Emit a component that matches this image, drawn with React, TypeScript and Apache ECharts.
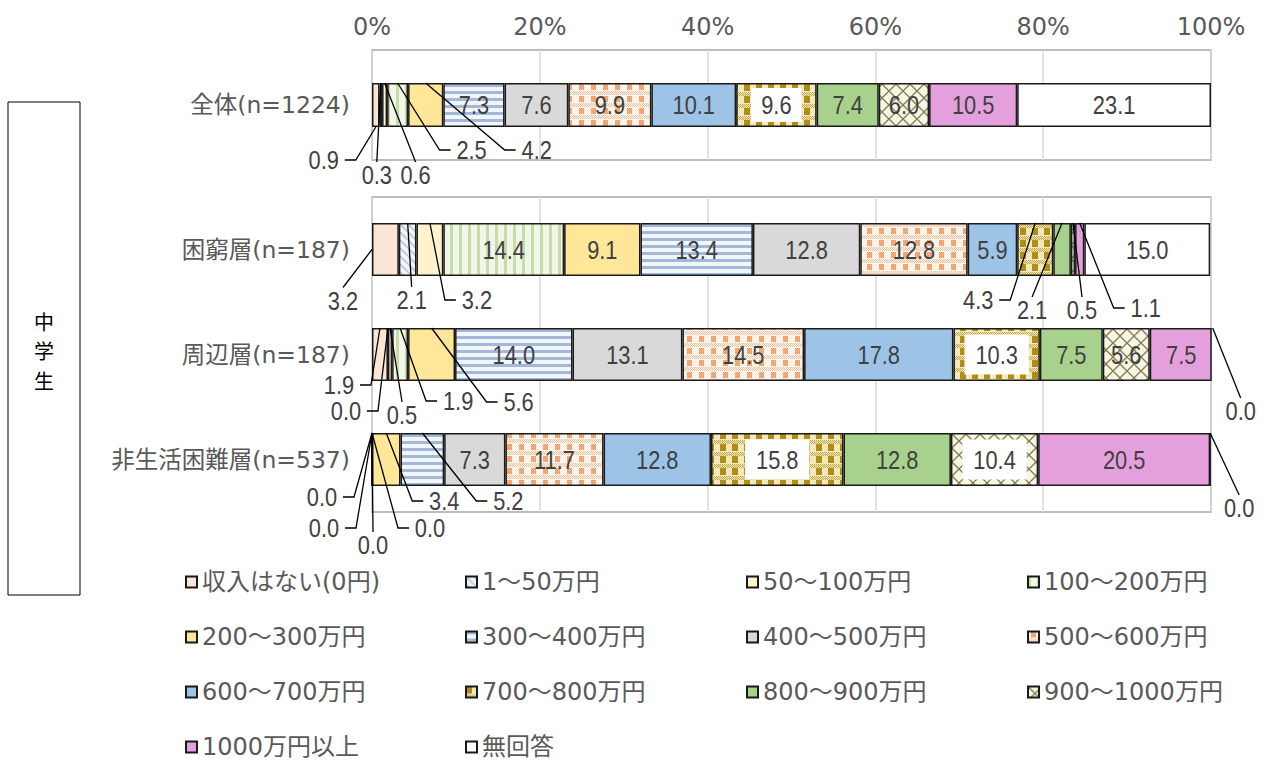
import React, { useEffect, useRef } from 'react';
import * as echarts from 'echarts';

// ---- data ----
const topCategories = ['全体(n=1224)'];
const bottomCategories = ['困窮層(n=187)', '周辺層(n=187)', '非生活困難層(n=537)'];
const incomeBands = [
  '収入はない(0円)', '1～50万円', '50～100万円', '100～200万円',
  '200～300万円', '300～400万円', '400～500万円', '500～600万円',
  '600～700万円', '700～800万円', '800～900万円', '900～1000万円',
  '1000万円以上', '無回答',
];
const valuesAll = [0.9, 0.3, 0.6, 2.5, 4.2, 7.3, 7.6, 9.9, 10.1, 9.6, 7.4, 6.0, 10.5, 23.1];
const valuesPoor = [3.2, 2.1, 3.2, 14.4, 9.1, 13.4, 12.8, 12.8, 5.9, 4.3, 2.1, 0.5, 1.1, 15.0];
const valuesBorder = [1.9, 0.0, 0.5, 1.9, 5.6, 14.0, 13.1, 14.5, 17.8, 10.3, 7.5, 5.6, 7.5, 0.0];
const valuesNonPoor = [0.0, 0.0, 0.0, 0.0, 3.4, 5.2, 7.3, 11.7, 12.8, 15.8, 12.8, 10.4, 20.5, 0.0];
const sideTitle = ['中', '学', '生'];

// ---- layout (not data) ----
const rowsByKey: Record<string, number[]> = {
  all: valuesAll, poor: valuesPoor, border: valuesBorder, nonpoor: valuesNonPoor,
};
const gridRows = [['all'], ['poor', 'border', 'nonpoor']];
const gridCats = [topCategories, bottomCategories];
const barWidths = [44, 53];
// [row, band index, label side, line target, dx, dy]
const leaderLayout: [string, number, string, string, number, number][] = [
  ['all', 0, 'right', 'bottom', -52, 33],
  ['all', 1, 'top', 'top', -4, 92],
  ['all', 2, 'top', 'top', 31, 92],
  ['all', 3, 'left', 'top', 74, 67],
  ['all', 4, 'left', 'top', 111, 67],
  ['poor', 0, 'top', 'left', -29, 51],
  ['poor', 1, 'top', 'top', 4, 77],
  ['poor', 2, 'left', 'top', 47, 77],
  ['poor', 9, 'right', 'top', -57, 77],
  ['poor', 10, 'top', 'top', -30, 87],
  ['poor', 11, 'top', 'top', 9, 87],
  ['poor', 12, 'left', 'top', 66, 85],
  ['border', 0, 'right', 'top', -41, 57],
  ['border', 1, 'right', 'top', -42, 83],
  ['border', 2, 'top', 'top', 12, 87],
  ['border', 3, 'left', 'top', 58, 73],
  ['border', 4, 'left', 'top', 87, 74],
  ['border', 13, 'top', 'top', 28, 83],
  ['nonpoor', 0, 'right', 'top', -50, 64],
  ['nonpoor', 1, 'right', 'top', -48, 95],
  ['nonpoor', 2, 'top', 'top', 1, 112],
  ['nonpoor', 3, 'left', 'top', 58, 95],
  ['nonpoor', 4, 'left', 'top', 58, 68],
  ['nonpoor', 5, 'left', 'top', 86, 68],
  ['nonpoor', 13, 'top', 'top', 29, 75],
];
const legendColumns = [[0, 4, 8, 12], [1, 5, 9, 13], [2, 6, 10], [3, 7, 11]];
const legendLeft = [185, 465, 746, 1027];

const LABEL_FONT = "'Liberation Sans', Arial, sans-serif";
const LABEL_SCALE = 0.84;
const UI_FONT = "'DejaVu Sans', 'Noto Sans CJK JP', sans-serif";

function tile(w: number, h: number, draw: (ctx: CanvasRenderingContext2D) => void) {
  const c = document.createElement('canvas');
  c.width = w;
  c.height = h;
  const ctx = c.getContext('2d') as CanvasRenderingContext2D;
  draw(ctx);
  return { image: c, repeat: 'repeat', imageWidth: w, imageHeight: h } as any;
}

function dots(ctx: CanvasRenderingContext2D, y0: number, y1: number, w: number) {
  for (let y = y0; y < y1; y++) for (let x = y % 2; x < w; x += 2) ctx.fillRect(x, y, 1, 1);
}

function makeFills() {
  return [
    '#fbe5d6',
    tile(8, 8, (ctx) => {
      ctx.fillStyle = '#f3f5f9'; ctx.fillRect(0, 0, 8, 8);
      ctx.strokeStyle = '#c3cbdb'; ctx.lineWidth = 2;
      for (let k = -1; k <= 1; k++) { ctx.beginPath(); ctx.moveTo(k * 8, 0); ctx.lineTo(k * 8 + 8, 8); ctx.stroke(); }
    }),
    '#fff2cc',
    tile(9, 9, (ctx) => {
      ctx.fillStyle = '#f0f6e8'; ctx.fillRect(0, 0, 9, 9);
      ctx.fillStyle = '#c8dcaa'; ctx.fillRect(0, 0, 3, 9);
    }),
    '#ffe699',
    tile(7, 7, (ctx) => {
      ctx.fillStyle = '#f2f5fa'; ctx.fillRect(0, 0, 7, 7);
      ctx.fillStyle = '#a3b9da'; ctx.fillRect(0, 0, 7, 3);
    }),
    '#d9d9d9',
    tile(12, 12, (ctx) => {
      ctx.fillStyle = '#fcf3ea'; ctx.fillRect(0, 0, 12, 12);
      ctx.fillStyle = '#f2a674'; ctx.fillRect(3, 0, 5, 6);
      ctx.fillStyle = '#ecc4a2'; dots(ctx, 7, 11, 12);
    }),
    '#9dc3e6',
    tile(12, 12, (ctx) => {
      ctx.fillStyle = '#f1e8c0'; ctx.fillRect(0, 0, 12, 12);
      ctx.fillStyle = '#b08e12'; ctx.fillRect(0, 0, 6, 7);
      ctx.fillStyle = '#c2a744'; dots(ctx, 8, 12, 12);
    }),
    '#a9d18e',
    tile(14, 14, (ctx) => {
      ctx.fillStyle = '#f7f5e6'; ctx.fillRect(0, 0, 14, 14);
      ctx.strokeStyle = '#847d4c'; ctx.lineWidth = 1.3;
      ctx.beginPath(); ctx.moveTo(0, 0); ctx.lineTo(14, 14); ctx.stroke();
      ctx.beginPath(); ctx.moveTo(14, 0); ctx.lineTo(0, 14); ctx.stroke();
    }),
    '#e4a0dc',
    '#ffffff',
  ];
}

function leaderIndex(row: string, s: number) {
  return leaderLayout.findIndex((l) => l[0] === row && l[1] === s);
}

export default function App() {
  const ref = useRef<HTMLDivElement>(null);
  useEffect(() => {
    const chart = echarts.init(ref.current as HTMLDivElement, null, { renderer: 'svg' });
    const fills = makeFills();
    const series: any[] = [];

    for (let g = 0; g < 2; g++) {
      const rows = gridRows[g];
      for (let s = 0; s < incomeBands.length; s++) {
        series.push({
          type: 'bar',
          name: incomeBands[s],
          xAxisIndex: g,
          yAxisIndex: g,
          stack: 'g' + g,
          barWidth: barWidths[g],
          emphasis: { disabled: true },
          itemStyle: { color: fills[s], borderColor: '#1a1a1a', borderWidth: 1.5 },
          label: { show: false },
          data: rows.map((rk) => rowsByKey[rk][s]),
        });
      }
      // value labels (inside and with leader lines), positioned from the stacked data
      const cdata: any[] = [];
      rows.forEach((rk, r) => {
        const vals = rowsByKey[rk];
        let cum = 0;
        vals.forEach((v, s) => {
          const li = leaderIndex(rk, s);
          const x = li >= 0 && leaderLayout[li][3] === 'left' ? 0 : cum + v / 2;
          cdata.push([x, r, v, li, s]);
          cum += v;
        });
      });
      const bw = barWidths[g];
      const boxPad = g === 0 ? [4, 12] : [7, 13];
      series.push({
        type: 'custom',
        xAxisIndex: g,
        yAxisIndex: g,
        silent: true,
        z: 5,
        encode: { x: 0, y: 1 },
        data: cdata,
        renderItem: (params: any, api: any) => {
          const li = api.value(3) as number;
          const s = api.value(4) as number;
          const v = Number(api.value(2));
          const p = api.coord([api.value(0), api.value(1)]);
          const boxed = li < 0 && (s === 9 || (s === 11 && v >= 8));
          const text = (x: number, y: number) => ({
            type: 'text', x, y, scaleX: LABEL_SCALE,
            style: {
              text: v.toFixed(1), fill: '#404040', fontSize: 26, fontFamily: LABEL_FONT,
              align: 'center', verticalAlign: 'middle',
              ...(boxed ? { backgroundColor: '#ffffff', padding: boxPad } : {}),
            },
          });
          if (li < 0) return { type: 'group', children: [text(p[0], p[1])] };
          const cfg = leaderLayout[li];
          const side = cfg[2], target = cfg[3], dx = cfg[4], dy = cfg[5];
          let tx = p[0], ty = p[1];
          if (target === 'top') ty -= bw / 2;
          else if (target === 'bottom') ty += bw / 2;
          const lx = tx + dx, ly = ty + dy;
          let pts: number[][];
          if (side === 'top') pts = [[lx, ly - 13], [tx, ty]];
          else if (side === 'left') pts = [[lx - 21, ly], [lx - 32, ly], [tx, ty]];
          else pts = [[lx + 21, ly], [lx + 32, ly], [tx, ty]];
          return {
            type: 'group',
            children: [
              { type: 'polyline', shape: { points: pts }, style: { stroke: '#000', lineWidth: 1.3, fill: null } },
              text(lx, ly),
            ],
          };
        },
      });
    }

    const xAxisBase = {
      type: 'value', min: 0, max: 100, interval: 20,
      axisLine: { show: false }, axisTick: { show: false },
      splitLine: { show: true, lineStyle: { color: '#d9d9d9', width: 1.5 } },
    };
    const yAxisBase = {
      type: 'category', inverse: true,
      axisLine: { show: false }, axisTick: { show: false },
      axisLabel: { fontSize: 23.5, color: '#595959', fontFamily: UI_FONT, margin: 22 },
    };

    const option: any = {
      animation: false,
      backgroundColor: '#ffffff',
      grid: [
        { left: 372, width: 839, top: 50, height: 110, show: true, borderColor: '#a6a6a6', borderWidth: 1.5 },
        { left: 372, width: 839, top: 197, height: 315, show: true, borderColor: '#a6a6a6', borderWidth: 1.5 },
      ],
      xAxis: [
        { ...xAxisBase, gridIndex: 0, position: 'top',
          axisLabel: { formatter: '{value}%', fontSize: 24, color: '#595959', fontFamily: UI_FONT, margin: 11 } },
        { ...xAxisBase, gridIndex: 1, axisLabel: { show: false } },
      ],
      yAxis: [
        { ...yAxisBase, gridIndex: 0, data: gridCats[0] },
        { ...yAxisBase, gridIndex: 1, data: gridCats[1] },
      ],
      legend: legendColumns.map((col, c) => ({
        orient: 'vertical',
        left: legendLeft[c],
        top: 570,
        padding: 0,
        itemGap: 31,
        itemWidth: 11,
        itemHeight: 11,
        icon: 'rect',
        selectedMode: false,
        data: col.map((i) => incomeBands[i]),
        textStyle: { fontSize: 24, lineHeight: 24, color: '#595959', fontFamily: UI_FONT },
      })),
      graphic: [
        { type: 'rect', shape: { x: 8, y: 102, width: 72, height: 493 }, style: { fill: '#fff', stroke: '#000', lineWidth: 1 } },
        ...sideTitle.map((ch, i) => ({
          type: 'text', x: 44, y: 321 + i * 29.5,
          style: {
            text: ch, fontSize: 20, lineHeight: 20, fill: '#000',
            fontFamily: "'Noto Sans CJK JP', sans-serif", align: 'center', verticalAlign: 'middle',
          },
        })),
      ],
      series,
    };
    chart.setOption(option);
    return () => chart.dispose();
  }, []);
  return (
    <div
      ref={ref}
      style={{ position: 'fixed', left: 0, top: 0, width: 1269, height: 764, background: '#fff' }}
    />
  );
}
